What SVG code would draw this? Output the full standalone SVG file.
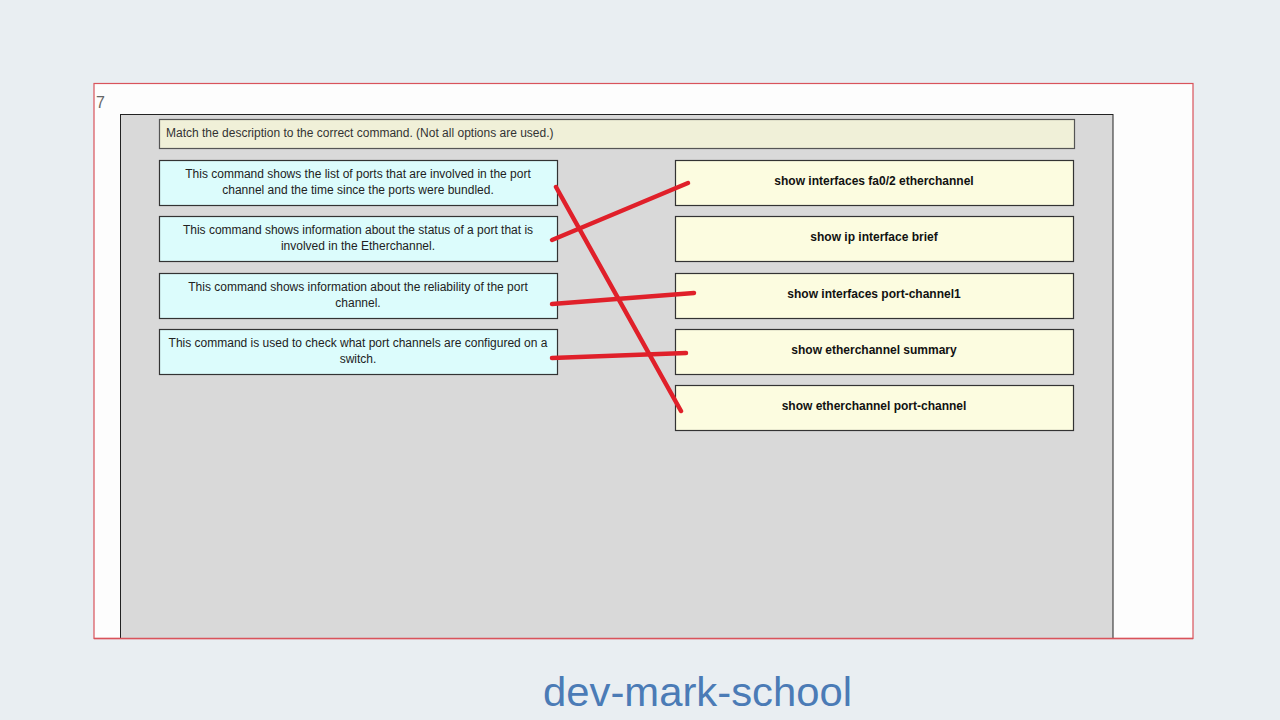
<svg xmlns="http://www.w3.org/2000/svg" width="1280" height="720" viewBox="0 0 1280 720">
<style>
.desc rect{fill:#dcfcfc;stroke:#333;stroke-width:1.2}
.cmd rect{fill:#fcfce0;stroke:#333;stroke-width:1.2}
.desc text{font-family:"Liberation Sans",Arial,sans-serif;font-size:12px;fill:#222;text-anchor:middle}
.cmd text{font-family:"Liberation Sans",Arial,sans-serif;font-size:12px;font-weight:bold;fill:#111;text-anchor:middle}
.conn line{stroke:#e0202a;stroke-width:4.5;stroke-linecap:round}
</style>
<rect x="0" y="0" width="1280" height="720" fill="#e9eef2"/>
<g id="frame">
<rect x="94" y="83.5" width="1099" height="555" fill="#fdfdfd" stroke="#d9535b" stroke-width="1.2"/>
<text x="96" y="108" font-family="Liberation Sans,Arial,sans-serif" font-size="16" fill="#666">7</text>
<rect x="120.5" y="114.5" width="992.5" height="524" fill="#d9d9d9" stroke="#222" stroke-width="1"/>
<line x1="94" y1="638.5" x2="1193" y2="638.5" stroke="#d9535b" stroke-width="1.5"/>
</g>
<g id="header">
<rect x="159.5" y="119.5" width="915" height="29" fill="#f0f0d8" stroke="#555" stroke-width="1.2"/>
<text x="166" y="136.5" font-family="Liberation Sans,Arial,sans-serif" font-size="12" fill="#333">Match the description to the correct command. (Not all options are used.)</text>
</g>
<g id="d1" class="desc"><rect x="159.5" y="160.5" width="398" height="45"/><text x="358" y="177.5">This command shows the list of ports that are involved in the port</text><text x="358" y="193.5">channel and the time since the ports were bundled.</text></g>
<g id="d2" class="desc"><rect x="159.5" y="216.5" width="398" height="45"/><text x="358" y="233.5">This command shows information about the status of a port that is</text><text x="358" y="249.5">involved in the Etherchannel.</text></g>
<g id="d3" class="desc"><rect x="159.5" y="273.5" width="398" height="45"/><text x="358" y="290.5">This command shows information about the reliability of the port</text><text x="358" y="306.5">channel.</text></g>
<g id="d4" class="desc"><rect x="159.5" y="329.5" width="398" height="45"/><text x="358" y="346.5">This command is used to check what port channels are configured on a</text><text x="358" y="362.5">switch.</text></g>
<g id="c1" class="cmd"><rect x="675.5" y="160.5" width="398" height="45"/><text x="874" y="185">show interfaces fa0/2 etherchannel</text></g>
<g id="c2" class="cmd"><rect x="675.5" y="216.5" width="398" height="45"/><text x="874" y="241">show ip interface brief</text></g>
<g id="c3" class="cmd"><rect x="675.5" y="273.5" width="398" height="45"/><text x="874" y="298">show interfaces port-channel1</text></g>
<g id="c4" class="cmd"><rect x="675.5" y="329.5" width="398" height="45"/><text x="874" y="354">show etherchannel summary</text></g>
<g id="c5" class="cmd"><rect x="675.5" y="385.5" width="398" height="45"/><text x="874" y="410">show etherchannel port-channel</text></g>
<g id="connectors" class="conn">
<line x1="556" y1="187" x2="681" y2="411"/>
<line x1="552" y1="240" x2="688" y2="183"/>
<line x1="552" y1="304" x2="694" y2="293"/>
<line x1="552" y1="358" x2="686" y2="353"/>
</g>
<text x="543" y="706" font-family="Liberation Sans,Arial,sans-serif" font-size="41" fill="#4b7bb6" textLength="309" lengthAdjust="spacingAndGlyphs">dev-mark-school</text>
</svg>
